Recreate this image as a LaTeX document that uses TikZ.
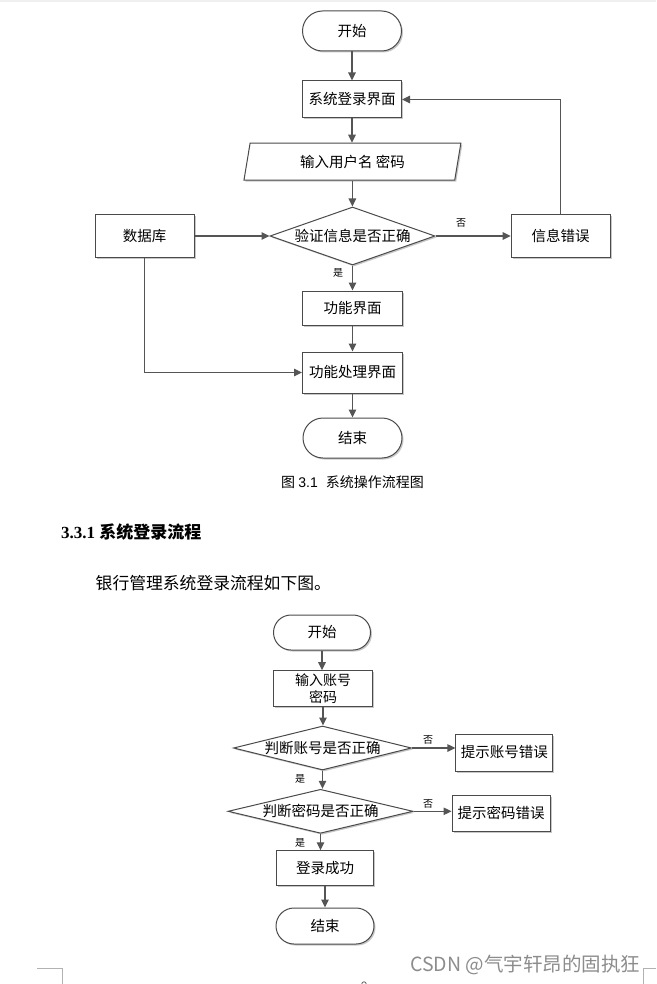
\documentclass[tikz,border=0pt]{standalone}
\usepackage{fontspec}
\setmainfont{Liberation Serif}
\newfontfamily\cjk{Noto Sans CJK SC}
\usetikzlibrary{arrows.meta,shapes.geometric,shadows}
\definecolor{edge}{HTML}{4A4A4A}
\definecolor{wire}{HTML}{555555}
\begin{document}
\begin{tikzpicture}[x=1pt,y=-1pt,
  base/.style={draw=edge, line width=1pt, fill=white, inner sep=0pt, align=center,
    font=\cjk\fontsize{14.5}{17}\selectfont,
    drop shadow={shadow xshift=1.5pt, shadow yshift=-1.5pt, fill=black!22, opacity=1}},
  proc/.style={base, rectangle},
  term/.style={base, rectangle, rounded corners=#1},
  io/.style={base, trapezium, trapezium left angle=77, trapezium right angle=103, trapezium stretches=true},
  dec/.style={base, diamond, shape aspect=#1},
  flow/.style={draw=wire, line width=1.2pt, -{Triangle[length=8pt,width=7.5pt]}},
  lbl/.style={font=\cjk\fontsize{10}{12}\selectfont, inner sep=0pt},
  cornermark/.style={draw=black!30, line width=0.8pt}
]
\useasboundingbox (0,0) rectangle (656,984);
\fill[black!6] (0,0) rectangle (656,2);

% ---- top flowchart ----
\node[term=20pt, minimum width=99pt, minimum height=40pt] (s1) at (352,31) {开始};
\node[proc, minimum width=99pt, minimum height=37pt] (login) at (352,99.5) {系统登录界面};
\node[io, minimum width=217pt, minimum height=37pt] (input) at (352.4,161.7) {输入用户名 密码};
\node[dec=2.85, minimum width=165pt, minimum height=58pt] (verify) at (352.5,236) {验证信息是否正确};
\node[proc, minimum width=99pt, minimum height=42pt] (db) at (144.5,236) {数据库};
\node[proc, minimum width=99pt, minimum height=42pt] (err) at (560.7,236) {信息错误};
\node[proc, minimum width=100pt, minimum height=34pt] (func) at (352.5,308) {功能界面};
\node[proc, minimum width=100pt, minimum height=41pt] (handle) at (352.5,372.5) {功能处理界面};
\node[term=20pt, minimum width=99pt, minimum height=40pt] (e1) at (352.5,438) {结束};

\draw[flow] (s1.south) -- (s1.south |- login.north);
\draw[flow] (login.south) -- (login.south |- input.north);
\draw[flow] (input.south) -- (input.south |- verify.north);
\draw[flow] (db.east) -- (verify.west);
\draw[flow] (verify.east) -- (err.west);
\draw[flow] (verify.south) -- (verify.south |- func.north);
\draw[flow] (func.south) -- (func.south |- handle.north);
\draw[flow] (db.south) |- (handle.west);
\draw[flow] (err.north) |- (login.east);
\draw[flow] (handle.south) -- (handle.south |- e1.north);
\node[lbl] (no1) at (461,223) {否};
\node[lbl] (yes1) at (338,273) {是};

\node[font=\cjk\fontsize{14}{16}\selectfont, inner sep=0pt] (cap) at (352.5,482)
  {图 {\fontspec{Liberation Sans}3.1}\hspace{8pt}系统操作流程图};

% ---- text ----
\node[anchor=west, inner sep=0pt, font=\fontsize{17}{20}\selectfont\bfseries] (head) at (61,532)
  {3.3.1 {\cjk\bfseries 系统登录流程}};
\node[anchor=west, inner sep=0pt, font=\cjk\fontsize{16.8}{20}\selectfont] (body) at (95.5,583)
  {银行管理系统登录流程如下图。};

% ---- bottom flowchart ----
\node[term=17.5pt, minimum width=97pt, minimum height=35pt] (s2) at (322,632.5) {开始};
\node[proc, minimum width=99pt, minimum height=36pt, font=\cjk\fontsize{14}{17}\selectfont] (in2) at (323,688.7) {输入账号\\密码};
\node[dec=4, minimum width=178pt, minimum height=44pt] (d1) at (322.5,748) {判断账号是否正确};
\node[proc, minimum width=97pt, minimum height=37pt] (b1) at (504.4,752.5) {提示账号错误};
\node[dec=4.2, minimum width=185pt, minimum height=44pt] (d2) at (320.5,811.3) {判断密码是否正确};
\node[proc, minimum width=98pt, minimum height=36pt] (b2) at (501,813) {提示密码错误};
\node[proc, minimum width=97pt, minimum height=35pt] (ok) at (325,868.3) {登录成功};
\node[term=18pt, minimum width=98pt, minimum height=36pt] (e2) at (325,926) {结束};

\draw[flow] (s2.south) -- (s2.south |- in2.north);
\draw[flow] (in2.south) -- (in2.south |- d1.north);
\draw[flow] (d1.east) -- (d1.east -| b1.west);
\draw[flow] (d1.south) -- (d1.south |- d2.north);
\draw[flow] (d2.east) -- (d2.east -| b2.west);
\draw[flow] (d2.south) -- (d2.south |- ok.north);
\draw[flow] (ok.south) -- (ok.south |- e2.north);
\node[lbl] (no2) at (428,740) {否};
\node[lbl] (yes2) at (300,779) {是};
\node[lbl] (no3) at (428,804) {否};
\node[lbl] (yes3) at (300,843) {是};

% ---- page decorations ----
\node[anchor=west, inner sep=0pt, text=black!45, font=\cjk\fontsize{19.5}{22}\selectfont] (wm) at (410,965)
  {CSDN @气宇轩昂的固执狂};
\draw[cornermark] (37,968) -- (62,968) -- (62,984);
\draw[cornermark] (656,968) -- (643,968) -- (643,984);
\draw[black!60, line width=0.8pt] (364,984) circle (2.2pt);
\end{tikzpicture}
\end{document}
